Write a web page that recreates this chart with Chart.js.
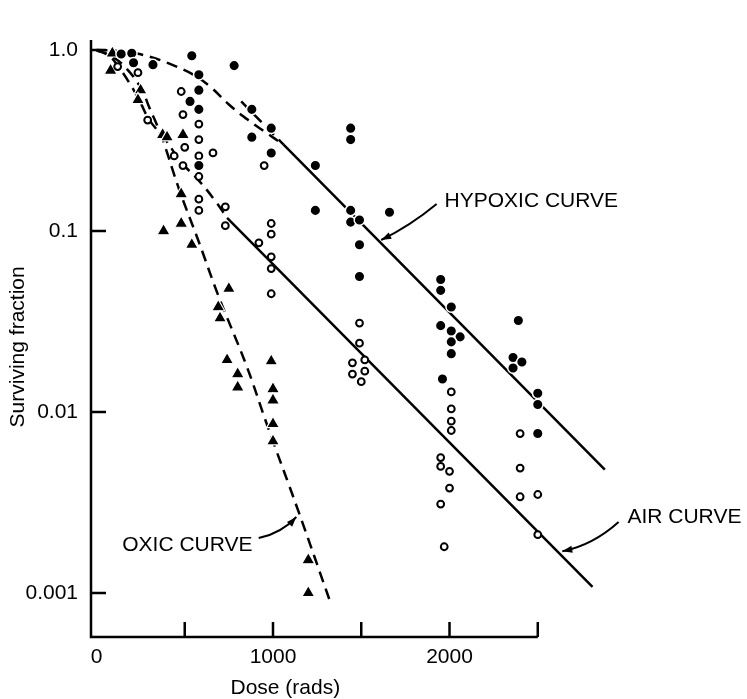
<!DOCTYPE html>
<html>
<head>
<meta charset="utf-8">
<script src="https://cdn.jsdelivr.net/npm/chart.js@4.4.0/dist/chart.umd.min.js"></script>
<style>
  body { margin: 0; background: #fff; }
</style>
</head>
<body>
<canvas id="myChart" width="747" height="699"></canvas>
<script>
// measured points: dose (rads) and surviving fraction
const hypoxicDose = [140, 200, 210, 320, 540, 780, 580, 580, 530, 580, 580, 880, 880, 990, 990, 1240, 1240,
  1440, 1440, 1440, 1440, 1490, 1490, 1490, 1660, 1950, 1950, 2010, 1950, 2010, 2060, 2010, 2010, 1960,
  2390, 2360, 2410, 2360, 2500, 2500, 2500];
const hypoxicSF = [0.95, 0.96, 0.85, 0.83, 0.93, 0.82, 0.73, 0.60, 0.52, 0.47, 0.23, 0.47, 0.33, 0.37, 0.27, 0.23, 0.13,
  0.37, 0.32, 0.13, 0.112, 0.115, 0.084, 0.056, 0.127, 0.054, 0.047, 0.038, 0.030, 0.028, 0.026, 0.0244, 0.021, 0.0152,
  0.032, 0.020, 0.0189, 0.0175, 0.0127, 0.011, 0.0076];

const airDose = [120, 235, 290, 480, 490, 500, 440, 490, 580, 580, 580, 580, 580, 580, 660, 730, 730, 920, 950,
  990, 990, 990, 990, 990, 1490, 1490, 1520, 1450, 1450, 1520, 1500, 2010, 2010, 2010, 2010,
  1950, 1950, 2000, 2000, 1950, 1970, 2400, 2400, 2400, 2500, 2500];
const airSF = [0.81, 0.75, 0.41, 0.59, 0.44, 0.29, 0.26, 0.23, 0.39, 0.32, 0.26, 0.20, 0.15, 0.13, 0.27, 0.136, 0.107, 0.086, 0.23,
  0.11, 0.096, 0.072, 0.062, 0.045, 0.031, 0.024, 0.0194, 0.0187, 0.0162, 0.0168, 0.0147, 0.0129, 0.0104, 0.0089, 0.0079,
  0.0056, 0.0050, 0.0047, 0.0038, 0.0031, 0.0018, 0.0076, 0.0049, 0.0034, 0.0035, 0.0021];

const oxicDose = [90, 80, 250, 235, 375, 400, 490, 480, 480, 380, 540, 750, 690, 700, 740, 800, 800,
  990, 1000, 1000, 1000, 1000, 1200, 1200];
const oxicSF = [0.96, 0.77, 0.60, 0.53, 0.34, 0.33, 0.34, 0.16, 0.11, 0.10, 0.084, 0.048, 0.038, 0.033, 0.0194, 0.0162, 0.0137,
  0.0191, 0.0134, 0.0116, 0.0086, 0.0069, 0.00152, 0.0010];

// fitted curves as drawn in the figure
const hypoxicCurveDose = [0, 110, 220, 330, 440, 550, 650, 750, 860, 960, 1060];
const hypoxicCurveSF = [1.0, 0.99, 0.96, 0.90, 0.82, 0.73, 0.62, 0.50, 0.41, 0.35, 0.30];
const hypoxicExtrapDose = [820, 1060];
const hypoxicExtrapSF = [0.52, 0.30];
const hypoxicLineDose = [1060, 2880];
const hypoxicLineSF = [0.30, 0.0048];

const airCurveDose = [0, 70, 120, 190, 250, 300, 390, 480, 580, 670, 740];
const airCurveSF = [1.0, 0.93, 0.82, 0.65, 0.51, 0.41, 0.32, 0.24, 0.19, 0.148, 0.118];
const airLineDose = [740, 2810];
const airLineSF = [0.118, 0.00108];

const oxicCurveDose = [0, 80, 160, 250, 300, 370, 470, 580, 690, 850, 970, 1140, 1330];
const oxicCurveSF = [1.0, 0.93, 0.81, 0.62, 0.48, 0.33, 0.168, 0.087, 0.044, 0.018, 0.0083, 0.0029, 0.00086];

const xTicks = [0, 500, 1000, 1500, 2000, 2500];
const xTickLabels = ['0', '', '1000', '', '2000', ''];
const yTicks = [1, 0.1, 0.01, 0.001];
const yTickLabels = ['1.0', '0.1', '0.01', '0.001'];

const FONT = '"Liberation Sans", Arial, Helvetica, sans-serif';

// curve labels with their arrows (data units)
const notes = [
  { text: 'HYPOXIC CURVE', at: [1972, 0.1465], from: [1927, 0.141], via: [1776, 0.1066], to: [1613, 0.0892] },
  { text: 'AIR CURVE', at: [3008, 0.00263], from: [2958, 0.00247], via: [2812, 0.00184], to: [2639, 0.0017] },
  { text: 'OXIC CURVE', at: [146, 0.00184], from: [919, 0.00201], via: [1048, 0.00214], to: [1132, 0.00263] }
];

function toPoints(xs, ys) {
  return xs.map((x, i) => ({ x: x, y: ys[i] }));
}

function lineSet(xs, ys, dashed) {
  return {
    data: toPoints(xs, ys),
    showLine: true,
    borderColor: '#000',
    borderWidth: 2.5,
    borderDash: dashed ? [11, 7] : [],
    pointRadius: 0,
    tension: 0.4,
    fill: false
  };
}

const frame = {
  id: 'frame',
  beforeDatasetsDraw(chart) {
    const { ctx, chartArea, scales: { x, y } } = chart;
    ctx.save();
    ctx.strokeStyle = '#000';
    ctx.lineWidth = 2.5;
    ctx.beginPath();
    ctx.moveTo(chartArea.left, chartArea.top);
    ctx.lineTo(chartArea.left, chartArea.bottom);
    ctx.moveTo(chartArea.left - 1.25, chartArea.bottom);
    ctx.lineTo(x.getPixelForValue(xTicks[xTicks.length - 1]), chartArea.bottom);
    xTicks.forEach(v => {
      if (v === 0) return;
      const px = x.getPixelForValue(v);
      ctx.moveTo(px, chartArea.bottom);
      ctx.lineTo(px, chartArea.bottom - 15);
    });
    yTicks.forEach(v => {
      const py = y.getPixelForValue(v);
      ctx.moveTo(chartArea.left, py);
      ctx.lineTo(chartArea.left + 15, py);
    });
    ctx.stroke();

    ctx.fillStyle = '#000';
    ctx.font = '21px ' + FONT;
    ctx.textAlign = 'center';
    ctx.textBaseline = 'middle';
    ctx.fillText('Dose (rads)', x.getPixelForValue(1070), chartArea.bottom + 51);
    ctx.translate(18, y.getPixelForValue(0.0229));
    ctx.rotate(-Math.PI / 2);
    ctx.fillText('Surviving fraction', 0, 0);
    ctx.restore();
  },
  afterDatasetsDraw(chart) {
    const { ctx, scales: { x, y } } = chart;
    const P = p => [x.getPixelForValue(p[0]), y.getPixelForValue(p[1])];
    ctx.save();
    ctx.fillStyle = '#000';
    ctx.strokeStyle = '#000';
    ctx.font = '21px ' + FONT;
    ctx.textAlign = 'left';
    ctx.textBaseline = 'middle';
    notes.forEach(n => {
      const t = P(n.at), a = P(n.from), c = P(n.via), b = P(n.to);
      ctx.fillText(n.text, t[0], t[1]);
      ctx.lineWidth = 2;
      ctx.beginPath();
      ctx.moveTo(a[0], a[1]);
      ctx.quadraticCurveTo(c[0], c[1], b[0], b[1]);
      ctx.stroke();
      const ang = Math.atan2(b[1] - c[1], b[0] - c[0]);
      ctx.beginPath();
      ctx.moveTo(b[0], b[1]);
      ctx.lineTo(b[0] - 10 * Math.cos(ang) + 3.5 * Math.sin(ang), b[1] - 10 * Math.sin(ang) - 3.5 * Math.cos(ang));
      ctx.lineTo(b[0] - 10 * Math.cos(ang) - 3.5 * Math.sin(ang), b[1] - 10 * Math.sin(ang) + 3.5 * Math.cos(ang));
      ctx.closePath();
      ctx.fill();
    });
    ctx.restore();
  }
};

const ctx = document.getElementById('myChart').getContext('2d');
const myGraph = new Chart(ctx, {
  type: 'scatter',
  data: {
    datasets: [
      {
        label: 'Hypoxic',
        data: toPoints(hypoxicDose, hypoxicSF),
        pointStyle: 'circle',
        pointRadius: 5.3,
        backgroundColor: '#000',
        borderColor: '#fff',
        borderWidth: 1.5
      },
      {
        label: 'Air',
        data: toPoints(airDose, airSF),
        pointStyle: 'circle',
        pointRadius: 3.4,
        backgroundColor: '#fff',
        borderColor: '#000',
        borderWidth: 2
      },
      {
        label: 'Oxic',
        data: toPoints(oxicDose, oxicSF),
        pointStyle: 'triangle',
        pointRadius: 7.5,
        backgroundColor: '#000',
        borderColor: '#fff',
        borderWidth: 1.2
      },
      lineSet(hypoxicCurveDose, hypoxicCurveSF, true),
      lineSet(hypoxicExtrapDose, hypoxicExtrapSF, true),
      lineSet(hypoxicLineDose, hypoxicLineSF, false),
      lineSet(airCurveDose, airCurveSF, true),
      lineSet(airLineDose, airLineSF, false),
      lineSet(oxicCurveDose, oxicCurveSF, true)
    ]
  },
  options: {
    responsive: false,
    animation: false,
    events: [],
    layout: { padding: { top: 40, right: 2, left: 0, bottom: 0 } },
    plugins: {
      legend: { display: false },
      tooltip: { enabled: false }
    },
    scales: {
      x: {
        type: 'linear',
        min: -31,
        max: 3636,
        grid: { display: false, drawTicks: false },
        border: { display: false },
        afterBuildTicks: scale => { scale.ticks = xTicks.map(v => ({ value: v })); },
        afterFit: scale => { scale.height = 62; },
        ticks: {
          autoSkip: false,
          maxRotation: 0,
          padding: 8,
          color: '#000',
          font: { family: FONT, size: 21 },
          callback: (value, index) => xTickLabels[index]
        }
      },
      y: {
        type: 'logarithmic',
        min: 0.000571,
        max: 1.136,
        grid: { display: false, drawTicks: false },
        border: { display: false },
        afterBuildTicks: scale => { scale.ticks = yTicks.map(v => ({ value: v })); },
        afterFit: scale => { scale.width = 91; },
        ticks: {
          autoSkip: false,
          padding: 13,
          color: '#000',
          font: { family: FONT, size: 21 },
          callback: (value, index) => yTickLabels[index]
        }
      }
    }
  },
  plugins: [frame]
});
</script>
</body>
</html>
